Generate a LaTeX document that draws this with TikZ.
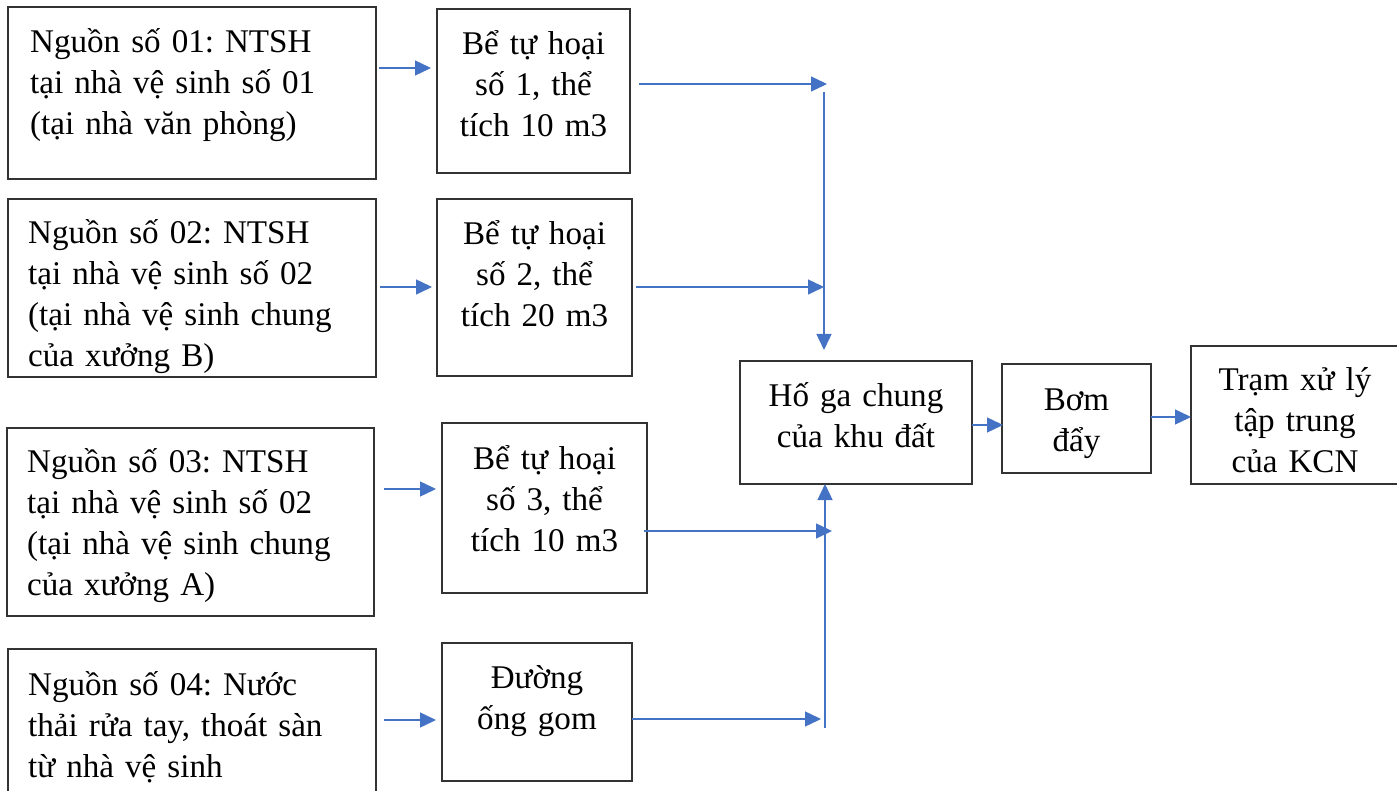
\documentclass[tikz,border=0pt]{standalone}
\usepackage{fontspec}
\setmainfont{Liberation Serif}
\usetikzlibrary{arrows.meta,calc}
\definecolor{flowblue}{HTML}{4472C4}
\definecolor{boxline}{HTML}{333333}
\frenchspacing
\begin{document}
\begin{tikzpicture}[x=1pt,y=-1pt,
  box/.style={draw=boxline,line width=1.3pt,anchor=north west,inner sep=0pt,outer sep=0pt},
  lefttext/.style={inner sep=0pt,anchor=base west,text width=#1,align=left,
    font=\fontsize{33.1}{41}\selectfont},
  midtext/.style={inner sep=0pt,anchor=base,text width=#1,align=center,
    font=\fontsize{33.1}{41}\selectfont},
  flow/.style={draw=flowblue,line width=1.4pt,-{Triangle[length=16pt,width=15pt]}}]
\useasboundingbox (0,0) rectangle (1397,791);

% sources
\node[box,minimum width=368pt,minimum height=172pt] (src1) at (8,7) {};
\node[box,minimum width=368pt,minimum height=178pt] (src2) at (8,199) {};
\node[box,minimum width=367pt,minimum height=188pt] (src3) at (7,428) {};
\node[box,minimum width=368pt,minimum height=160pt] (src4) at (8,649) {};

\node[lefttext=340pt] (src1t) at ($(src1.north west)+(22,46)$)
  {Nguồn số 01: NTSH\\tại nhà vệ sinh số 01\\(tại nhà văn phòng)};
\node[lefttext=340pt] (src2t) at ($(src2.north west)+(20,45)$)
  {Nguồn số 02: NTSH\\tại nhà vệ sinh số 02\\(tại nhà vệ sinh chung\\của xưởng B)};
\node[lefttext=340pt] (src3t) at ($(src3.north west)+(20,44)$)
  {Nguồn số 03: NTSH\\tại nhà vệ sinh số 02\\(tại nhà vệ sinh chung\\của xưởng A)};
\node[lefttext=340pt] (src4t) at ($(src4.north west)+(20,46)$)
  {Nguồn số 04: Nước\\thải rửa tay, thoát sàn\\từ nhà vệ sinh};

% septic tanks and collecting pipe
\node[box,minimum width=193pt,minimum height=164pt] (sep1) at (437,9) {};
\node[box,minimum width=195pt,minimum height=177pt] (sep2) at (437,199) {};
\node[box,minimum width=205pt,minimum height=170pt] (sep3) at (442,423) {};
\node[box,minimum width=190pt,minimum height=138pt] (pipe) at (442,643) {};

\node[midtext=185pt] (sep1t) at ($(sep1.north)+(0,46)$) {Bể tự hoại\\số 1, thể\\tích 10 m3};
\node[midtext=185pt] (sep2t) at ($(sep2.north)+(0,46)$) {Bể tự hoại\\số 2, thể\\tích 20 m3};
\node[midtext=195pt] (sep3t) at ($(sep3.north)+(0,46)$) {Bể tự hoại\\số 3, thể\\tích 10 m3};
\node[midtext=180pt] (pipet) at ($(pipe.north)+(0,45)$) {Đường\\ống gom};

% downstream chain
\node[box,minimum width=232pt,minimum height=123pt] (pit) at (740,361) {};
\node[box,minimum width=149pt,minimum height=109pt] (pump) at (1002,364) {};
\node[box,minimum width=208pt,minimum height=138pt] (plant) at (1191,346) {};

\node[midtext=225pt] (pitt) at ($(pit.north)+(0,45)$) {Hố ga chung\\của khu đất};
\node[midtext=140pt] (pumpt) at ($(pump.north)+(0,46)$) {Bơm\\đẩy};
\node[midtext=200pt] (plantt) at ($(plant.north)+(0,44)$) {Trạm xử lý\\tập trung\\của KCN};

% sources to tanks
\draw[flow] ($(src1.north east)+(3,61)$) -- ($(sep1.north west)+(-6,59)$);
\draw[flow] ($(src2.north east)+(4,88)$) -- ($(sep2.north west)+(-5,88)$);
\draw[flow] ($(src3.north east)+(10,61)$) -- ($(sep3.north west)+(-6,66)$);
\draw[flow] ($(src4.north east)+(8,71)$) -- ($(pipe.north west)+(-6,77)$);

% collector lines into the common pit
\coordinate (upperTop) at (824,92);
\coordinate (lowerEnd) at (825,728);
\draw[flow] ($(sep1.north east)+(9,75)$) -- ($(sep1.north east)+(197,75)$);
\draw[flow] ($(sep2.north east)+(4,88)$) -- ($(sep2.north east)+(192,88)$);
\draw[flow] (upperTop) -- ($(pit.north west)+(84,-11)$);
\draw[flow] ($(sep3.north east)+(-3,108)$) -- ($(sep3.north east)+(185,108)$);
\draw[flow] ($(pipe.north east)+(0,76)$) -- ($(pipe.north east)+(189,76)$);
\draw[flow] (lowerEnd) -- (lowerEnd |- pit.south);

% pit to pump to treatment plant
\draw[flow] ($(pit.north east)+(0,64)$) -- ($(pump.north west)+(1,61)$);
\draw[flow] ($(pump.north east)+(0,53)$) -- ($(plant.north west)+(0,71)$);
\end{tikzpicture}
\end{document}
